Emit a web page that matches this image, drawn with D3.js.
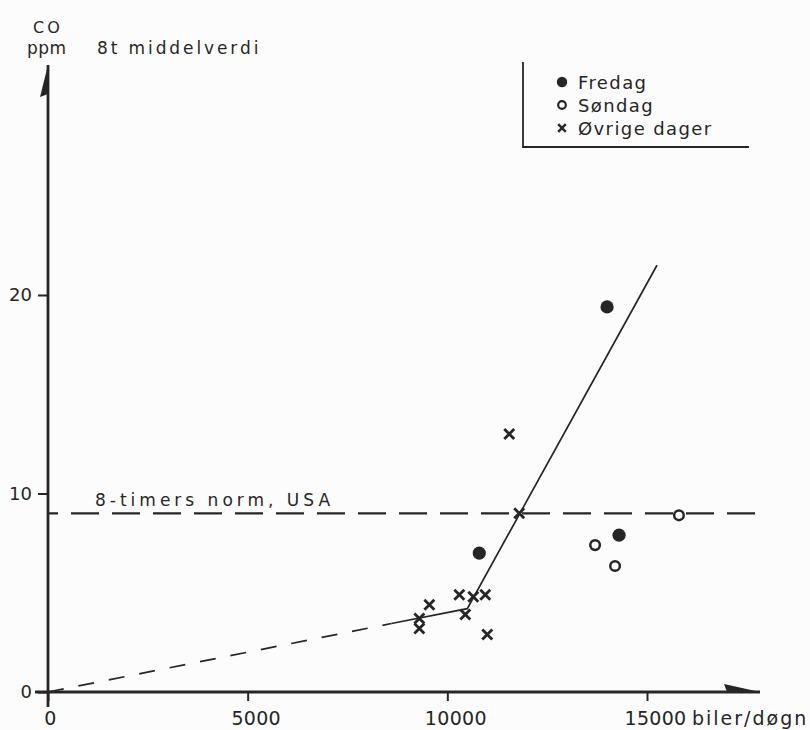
<!DOCTYPE html>
<html>
<head>
<meta charset="utf-8">
<script src="https://cdn.jsdelivr.net/npm/d3@7"></script>
<style>
  html, body { margin: 0; padding: 0; background: #fcfcfc; }
  svg { display: block; }
  text { font-family: "DejaVu Sans", sans-serif; fill: #262626; }
</style>
</head>
<body>
<svg id="chart" width="810" height="730"></svg>
<script>
// ---- data ----
const fredagX = [10800, 14000, 14300];
const fredagY = [7.0, 19.4, 7.9];
const sondagX = [13700, 14200, 15800];
const sondagY = [7.4, 6.35, 8.9];
const ovrigeX = [9300, 9300, 9550, 10300, 10450, 10650, 10950, 11000, 11550, 11800];
const ovrigeY = [3.7, 3.2, 4.4, 4.9, 3.9, 4.8, 4.9, 2.9, 13.0, 9.0];
const trendX = [0, 8600, 10500, 15250];
const trendY = [0, 3.45, 4.2, 21.5];
const normValue = 9;
const xTicks = [0, 5000, 10000, 15000];
const yTicks = [0, 10, 20];
const legendLabels = ["Fredag", "Søndag", "Øvrige dager"];

const ink = "#262626";
const svg = d3.select("#chart");
const x = d3.scaleLinear().domain([0, 15000]).range([48, 647]);
const y = d3.scaleLinear().domain([0, 20]).range([692, 295]);

const xMax = x.invert(760);
const yMax = y.invert(65);

// ---- axes via d3 ----
const gx = svg.append("g").attr("transform", `translate(0,${y(0)})`)
  .call(d3.axisBottom(x).tickValues(xTicks).tickSize(9).tickFormat(d3.format("d")));
gx.select(".domain").remove();
gx.selectAll(".tick line").attr("stroke", ink).attr("stroke-width", 2);
gx.selectAll(".tick text").attr("font-size", 19).attr("y", 33).attr("dy", 0)
  .attr("dx", 8).attr("fill", ink).style("letter-spacing", "0.3px");
gx.selectAll(".tick text").filter(d => d === 0).attr("dx", 2);

const gy = svg.append("g").attr("transform", `translate(${x(0)},0)`)
  .call(d3.axisLeft(y).tickValues(yTicks).tickSize(10).tickFormat(d3.format("d")));
gy.select(".domain").remove();
gy.selectAll(".tick line").attr("stroke", ink).attr("stroke-width", 2);
gy.selectAll(".tick text").attr("font-size", 18).attr("dx", -3).attr("fill", ink);

// axis lines with arrows
svg.append("line").attr("x1", x(0) - 13).attr("x2", x(xMax)).attr("y1", y(0)).attr("y2", y(0))
  .attr("stroke", ink).attr("stroke-width", 2.8);
svg.append("line").attr("x1", x(0)).attr("x2", x(0)).attr("y1", y(0) + 15).attr("y2", y(yMax))
  .attr("stroke", ink).attr("stroke-width", 2.8);
// x arrowhead (half, above)
svg.append("path")
  .attr("d", `M${x(xMax)},${y(0)} L${x(xMax) - 36},${y(0) - 8} L${x(xMax) - 33},${y(0)} Z`)
  .attr("fill", ink);
// y arrowhead (half, left)
svg.append("path")
  .attr("d", `M${x(0)},${y(yMax)} L${x(0) - 8},${y(yMax) + 32} L${x(0)},${y(yMax) + 29} Z`)
  .attr("fill", ink);

// axis titles
svg.append("text").attr("x", 33).attr("y", 33).attr("font-size", 16)
  .style("letter-spacing", "3px").text("CO");
svg.append("text").attr("x", 27).attr("y", 54).attr("font-size", 17)
  .style("letter-spacing", "0.5px").text("ppm");
svg.append("text").attr("x", 97).attr("y", 54).attr("font-size", 17)
  .style("letter-spacing", "2.9px").text("8t middelverdi");
svg.append("text").attr("x", 692).attr("y", 725).attr("font-size", 19)
  .style("letter-spacing", "2px").text("biler/døgn");

// ---- norm line ----
svg.append("line").attr("x1", x(0)).attr("x2", 760).attr("y1", y(normValue)).attr("y2", y(normValue))
  .attr("stroke", ink).attr("stroke-width", 2.2).attr("stroke-dasharray", "28,13")
  .attr("stroke-dashoffset", 18);
svg.append("text").attr("x", 95).attr("y", 506).attr("font-size", 17)
  .style("letter-spacing", "4px").text("8-timers norm, USA");

// ---- trend line ----
const trendPts = trendX.map((d, i) => [x(d), y(trendY[i])]);
svg.append("path").attr("d", d3.line()(trendPts.slice(0, 2)))
  .attr("fill", "none").attr("stroke", ink).attr("stroke-width", 1.7)
  .attr("stroke-dasharray", "16,15");
svg.append("path").attr("d", d3.line()(trendPts.slice(1)))
  .attr("fill", "none").attr("stroke", ink).attr("stroke-width", 1.7);

// ---- markers ----
function cross(g, cx, cy, s, w) {
  g.append("path").attr("d", `M${cx - s},${cy - s}L${cx + s},${cy + s}M${cx - s},${cy + s}L${cx + s},${cy - s}`)
    .attr("stroke", ink).attr("stroke-width", w).attr("fill", "none");
}
const marks = svg.append("g");
ovrigeX.forEach((d, i) => cross(marks, x(d), y(ovrigeY[i]), 5, 2.8));
sondagX.forEach((d, i) => marks.append("circle").attr("cx", x(d)).attr("cy", y(sondagY[i]))
  .attr("r", 4.8).attr("fill", "#fcfcfc").attr("stroke", ink).attr("stroke-width", 2.5));
fredagX.forEach((d, i) => marks.append("circle").attr("cx", x(d)).attr("cy", y(fredagY[i]))
  .attr("r", 6.6).attr("fill", ink));

// ---- legend ----
const lg = svg.append("g");
lg.append("path").attr("d", "M523,62 L523,147 L749,147").attr("fill", "none")
  .attr("stroke", ink).attr("stroke-width", 1.8);
const ly = [82, 105, 128];
lg.append("circle").attr("cx", 562).attr("cy", ly[0]).attr("r", 5.2).attr("fill", ink);
lg.append("circle").attr("cx", 562).attr("cy", ly[1]).attr("r", 3.8).attr("fill", "none")
  .attr("stroke", ink).attr("stroke-width", 2.2);
cross(lg, 562, ly[2], 3.8, 2.4);
legendLabels.forEach((t, i) => lg.append("text").attr("x", 578).attr("y", ly[i] + 7)
  .attr("font-size", 18).style("letter-spacing", "1.4px").text(t));
</script>
</body>
</html>
